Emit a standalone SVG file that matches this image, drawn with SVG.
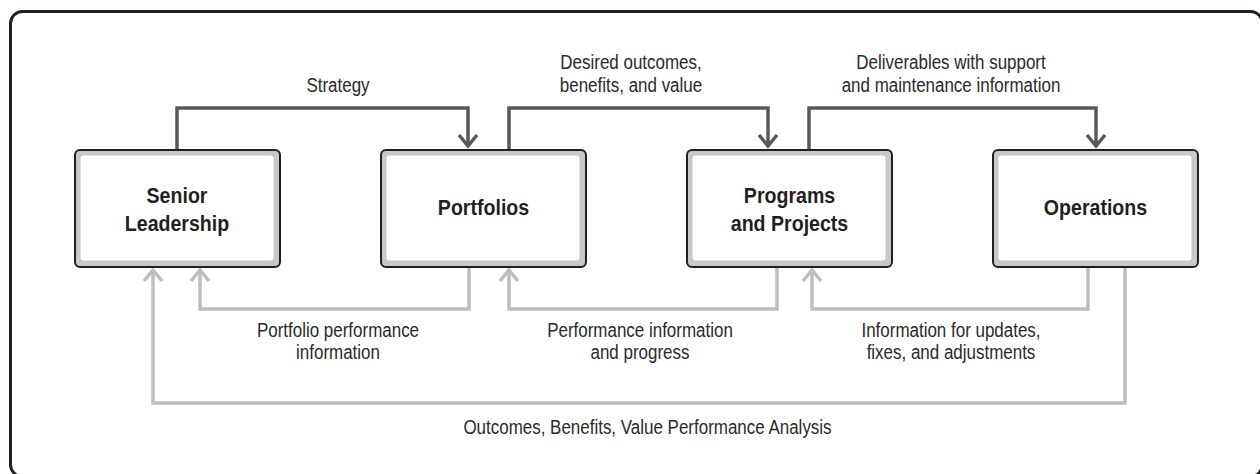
<svg xmlns="http://www.w3.org/2000/svg" width="1260" height="474" viewBox="0 0 1260 474">
  <style>
    .frame { fill: #ffffff; stroke: #231f20; stroke-width: 3; }
    .box-outer { fill: #c7c8c9; stroke: #231f20; stroke-width: 2; }
    .box-inner { fill: #ffffff; }
    .title { font-family: "Liberation Sans", Arial, sans-serif; font-weight: bold; font-size: 22px; fill: #231f20; text-anchor: middle; }
    .label { font-family: "Liberation Sans", Arial, sans-serif; font-size: 19.5px; fill: #2b2a2a; text-anchor: middle; }
    .dark { fill: none; stroke: #59595b; stroke-width: 3.5; stroke-linejoin: miter; }
    .light { fill: none; stroke: #bcbec0; stroke-width: 3.5; stroke-linejoin: miter; }
  </style>
  <defs>
    <marker id="ah-dark" markerUnits="userSpaceOnUse" markerWidth="30" markerHeight="30" viewBox="-15 -15 30 30" refX="0" refY="0" orient="auto" overflow="visible">
      <path d="M-11 -9 L0 0 L-11 9" fill="none" stroke="#59595b" stroke-width="3.5"/>
    </marker>
    <marker id="ah-light" markerUnits="userSpaceOnUse" markerWidth="30" markerHeight="30" viewBox="-15 -15 30 30" refX="0" refY="0" orient="auto" overflow="visible">
      <path d="M-11 -9 L0 0 L-11 9" fill="none" stroke="#bcbec0" stroke-width="3.5"/>
    </marker>
  </defs>

  <rect class="frame" x="10.5" y="11.5" width="1252" height="465" rx="12" ry="12"/>

  <g id="connectors">
    <path class="dark" d="M177 150 V108 H468 V146" marker-end="url(#ah-dark)"/>
    <path class="dark" d="M509 150 V108 H768 V146" marker-end="url(#ah-dark)"/>
    <path class="dark" d="M809 150 V108 H1096 V146" marker-end="url(#ah-dark)"/>
    <path class="light" d="M469 266 V309 H200 V270" marker-end="url(#ah-light)"/>
    <path class="light" d="M777 266 V309 H509 V270" marker-end="url(#ah-light)"/>
    <path class="light" d="M1088 266 V309 H812 V270" marker-end="url(#ah-light)"/>
    <path class="light" d="M1125 266 V403 H153 V270" marker-end="url(#ah-light)"/>

    <text class="label" transform="translate(338,92) scale(0.87,1)">Strategy</text>
    <text class="label" transform="translate(631,69) scale(0.87,1)"><tspan x="0" y="0">Desired outcomes,</tspan><tspan x="0" y="23">benefits, and value</tspan></text>
    <text class="label" transform="translate(951,69) scale(0.87,1)"><tspan x="0" y="0">Deliverables with support</tspan><tspan x="0" y="23">and maintenance information</tspan></text>
    <text class="label" transform="translate(338,337) scale(0.87,1)"><tspan x="0" y="0">Portfolio performance</tspan><tspan x="0" y="22">information</tspan></text>
    <text class="label" transform="translate(640,337) scale(0.87,1)"><tspan x="0" y="0">Performance information</tspan><tspan x="0" y="22">and progress</tspan></text>
    <text class="label" transform="translate(951,337) scale(0.87,1)"><tspan x="0" y="0">Information for updates,</tspan><tspan x="0" y="22">fixes, and adjustments</tspan></text>
    <text class="label" transform="translate(647.5,434) scale(0.87,1)">Outcomes, Benefits, Value Performance Analysis</text>
  </g>

  <g id="senior-leadership">
    <rect class="box-outer" x="75" y="150" width="205" height="117" rx="5"/>
    <rect class="box-inner" x="80.5" y="155.5" width="193" height="105" rx="3"/>
    <text class="title" transform="translate(177,203) scale(0.89,1)"><tspan x="0" y="0">Senior</tspan><tspan x="0" y="28">Leadership</tspan></text>
  </g>

  <g id="portfolios">
    <rect class="box-outer" x="381" y="150" width="205" height="117" rx="5"/>
    <rect class="box-inner" x="386.5" y="155.5" width="193" height="105" rx="3"/>
    <text class="title" transform="translate(483.5,215) scale(0.89,1)">Portfolios</text>
  </g>

  <g id="programs-projects">
    <rect class="box-outer" x="687" y="150" width="205" height="117" rx="5"/>
    <rect class="box-inner" x="692.5" y="155.5" width="193" height="105" rx="3"/>
    <text class="title" transform="translate(789.5,203) scale(0.89,1)"><tspan x="0" y="0">Programs</tspan><tspan x="0" y="28">and Projects</tspan></text>
  </g>

  <g id="operations">
    <rect class="box-outer" x="993" y="150" width="205" height="117" rx="5"/>
    <rect class="box-inner" x="998.5" y="155.5" width="193" height="105" rx="3"/>
    <text class="title" transform="translate(1095.5,215) scale(0.89,1)">Operations</text>
  </g>
</svg>
